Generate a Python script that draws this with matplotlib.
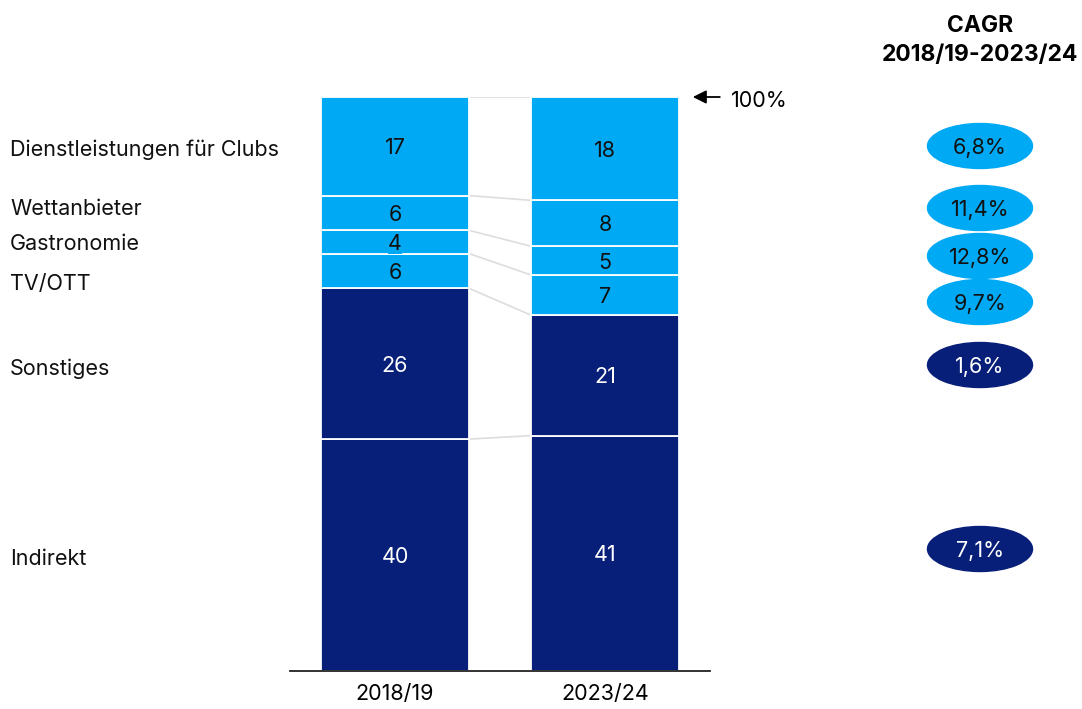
import matplotlib.pyplot as plt
from matplotlib.patches import Ellipse
from matplotlib.transforms import blended_transform_factory
import numpy as np

plt.rcParams['font.family'] = ['Inter', 'DejaVu Sans']

jahre = ["2018/19", "2023/24"]
segmente = ["Indirekt", "Sonstiges", "TV/OTT", "Gastronomie", "Wettanbieter",
            "Dienstleistungen für Clubs"]
werte_2018 = [40, 26, 6, 4, 6, 17]
werte_2023 = [41, 21, 7, 5, 8, 18]
cagr = ["7,1%", "1,6%", "9,7%", "12,8%", "11,4%", "6,8%"]

hellblau = "#00A9F4"
dunkelblau = "#071F78"
farben = [dunkelblau, dunkelblau, hellblau, hellblau, hellblau, hellblau]
fs = 15.5
gewicht = "normal"

fig = plt.figure(figsize=(10.82, 7.09), dpi=100)
ax = fig.add_axes([290 / 1082, 1 - 671 / 709, 420 / 1082, 574 / 709])

breite = 0.705
werte = np.array([werte_2018, werte_2023], dtype=float)
# auf 100 % normieren, damit beide Säulen gleich hoch sind
anteile = werte / werte.sum(axis=1, keepdims=True) * 100
unten = np.zeros(2)
grenzen = [np.zeros(2)]
for i in range(len(segmente)):
    ax.bar([0, 1], anteile[:, i], breite, bottom=unten, color=farben[i],
           edgecolor="white", linewidth=1.3, zorder=2)
    mitte = unten + anteile[:, i] / 2
    txtfarbe = "white" if farben[i] == dunkelblau else "#111111"
    for j in range(2):
        ax.text(j, mitte[j], str(int(werte[j, i])), ha="center",
                va="center_baseline", fontsize=fs, fontweight=gewicht,
                color=txtfarbe, zorder=4,
                bbox=dict(boxstyle="square,pad=0", fc=farben[i], ec="none"))
    unten = unten + anteile[:, i]
    grenzen.append(unten.copy())

# Verbindungslinien zwischen den Säulen
for g in grenzen[1:]:
    ax.plot([breite / 2, 1 - breite / 2], [g[0], g[1]], color="#DDDDDD",
            linewidth=1.2, zorder=1)

ax.set_xlim(-0.5, 1.5)
ax.set_ylim(0, 100)
ax.set_yticks([])
ax.set_xticks([0, 1])
ax.set_xticklabels(jahre, fontsize=fs, fontweight=gewicht)
ax.tick_params(axis="x", length=0, pad=9)
for s in ["top", "right", "left"]:
    ax.spines[s].set_visible(False)
ax.spines["bottom"].set_color("#222222")
ax.spines["bottom"].set_linewidth(1.3)

# Beschriftung der Segmente links
links = blended_transform_factory(fig.transFigure, ax.transData)
mitten_2018 = [(grenzen[i][0] + grenzen[i + 1][0]) / 2 for i in range(len(segmente))]
versatz = [-0.3, -0.5, -2.0, 0, 1.1, -0.2]
for name, m, v in zip(segmente, mitten_2018, versatz):
    ax.text(10 / 1082, m + v, name, transform=links, fontsize=fs,
            fontweight=gewicht, ha="left", va="center_baseline",
            color="#111111")

# 100 %-Pfeil
ax.annotate("", xy=(1.405, 100), xytext=(1.56, 100),
            arrowprops=dict(arrowstyle="-|>", color="black", lw=1.3,
                            mutation_scale=20), annotation_clip=False)
ax.text(1.6, 99.6, "100%", fontsize=fs, fontweight=gewicht, ha="left",
        va="center_baseline", clip_on=False)

# CAGR-Blasen rechts
fig.text(980 / 1082, 1 - 23 / 709, "CAGR", fontsize=16.5, fontweight="bold",
         ha="center", va="center_baseline")
fig.text(980 / 1082, 1 - 53 / 709, "2018/19-2023/24", fontsize=16.5,
         fontweight="bold", ha="center", va="center_baseline")
blasen_y = [549, 365, 302, 256, 208, 146]
for wert, py, f in zip(cagr, blasen_y, farben):
    yf = 1 - py / 709
    fig.patches.append(Ellipse((980 / 1082, yf), 105 / 1082, 45 / 709,
                               transform=fig.transFigure, color=f))
    fig.text(980 / 1082, yf, wert, fontsize=fs, fontweight=gewicht,
             ha="center", va="center_baseline",
             color="white" if f == dunkelblau else "#111111")

fig.savefig("out.png", dpi=100)
